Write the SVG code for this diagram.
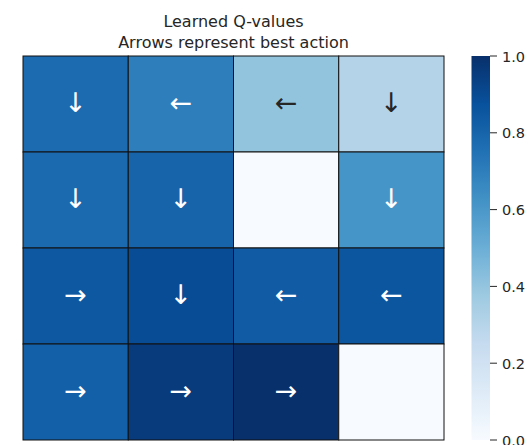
<svg xmlns="http://www.w3.org/2000/svg" width="530" height="445" viewBox="0 0 530 445">
<defs>
<linearGradient id="blues" x1="0" y1="1" x2="0" y2="0">
<stop offset="0" stop-color="#f7fbff"/>
<stop offset="0.125" stop-color="#deebf7"/>
<stop offset="0.25" stop-color="#c6dbef"/>
<stop offset="0.375" stop-color="#9ecae1"/>
<stop offset="0.5" stop-color="#6baed6"/>
<stop offset="0.625" stop-color="#4292c6"/>
<stop offset="0.75" stop-color="#2171b5"/>
<stop offset="0.875" stop-color="#08519c"/>
<stop offset="1" stop-color="#08306b"/>
</linearGradient>
<style>
text{font-family:"DejaVu Sans","Liberation Sans",sans-serif;fill:#262626}
.title{font-size:16px;text-anchor:middle}
.tick{font-size:14.5px}
.arr{font-size:27px;text-anchor:middle}
.w{fill:#ffffff}
.cell{stroke:#111;stroke-width:1}
.tk{stroke:#262626;stroke-width:1}
</style>
</defs>
<rect width="530" height="445" fill="#ffffff"/>
<g id="title">
<text class="title" x="233.5" y="27">Learned Q-values</text>
<text class="title" x="233.5" y="48">Arrows represent best action</text>
</g>
<g id="r0c0"><rect class="cell" x="23" y="56" width="105.25" height="96" fill="#1c6ab0"/><text class="arr w" x="75.6" y="112">↓</text></g>
<g id="r0c1"><rect class="cell" x="128.25" y="56" width="105.25" height="96" fill="#2e7ebc"/><text class="arr w" x="180.9" y="112">←</text></g>
<g id="r0c2"><rect class="cell" x="233.5" y="56" width="105.25" height="96" fill="#93c4de"/><text class="arr" x="286.1" y="112">←</text></g>
<g id="r0c3"><rect class="cell" x="338.75" y="56" width="105.25" height="96" fill="#b4d3e9"/><text class="arr" x="391.4" y="112">↓</text></g>
<g id="r1c0"><rect class="cell" x="23" y="152" width="105.25" height="96" fill="#1b69af"/><text class="arr w" x="75.6" y="208">↓</text></g>
<g id="r1c1"><rect class="cell" x="128.25" y="152" width="105.25" height="96" fill="#1764ab"/><text class="arr w" x="180.9" y="208">↓</text></g>
<g id="r1c2"><rect class="cell" x="233.5" y="152" width="105.25" height="96" fill="#f7fbff"/></g>
<g id="r1c3"><rect class="cell" x="338.75" y="152" width="105.25" height="96" fill="#4695c8"/><text class="arr w" x="391.4" y="208">↓</text></g>
<g id="r2c0"><rect class="cell" x="23" y="248" width="105.25" height="96" fill="#0e58a2"/><text class="arr w" x="75.6" y="304">→</text></g>
<g id="r2c1"><rect class="cell" x="128.25" y="248" width="105.25" height="96" fill="#084c95"/><text class="arr w" x="180.9" y="304">↓</text></g>
<g id="r2c2"><rect class="cell" x="233.5" y="248" width="105.25" height="96" fill="#105ba4"/><text class="arr w" x="286.1" y="304">←</text></g>
<g id="r2c3"><rect class="cell" x="338.75" y="248" width="105.25" height="96" fill="#0c56a0"/><text class="arr w" x="391.4" y="304">←</text></g>
<g id="r3c0"><rect class="cell" x="23" y="344" width="105.25" height="96" fill="#1460a8"/><text class="arr w" x="75.6" y="400">→</text></g>
<g id="r3c1"><rect class="cell" x="128.25" y="344" width="105.25" height="96" fill="#083b7c"/><text class="arr w" x="180.9" y="400">→</text></g>
<g id="r3c2"><rect class="cell" x="233.5" y="344" width="105.25" height="96" fill="#08306b"/><text class="arr w" x="286.1" y="400">→</text></g>
<g id="r3c3"><rect class="cell" x="338.75" y="344" width="105.25" height="96" fill="#f7fbff"/></g>
<g id="colorbar">
<rect x="471.5" y="56" width="18.5" height="384" fill="url(#blues)"/>
<line class="tk" x1="490" y1="56" x2="497" y2="56"/>
<line class="tk" x1="490" y1="132.8" x2="497" y2="132.8"/>
<line class="tk" x1="490" y1="209.6" x2="497" y2="209.6"/>
<line class="tk" x1="490" y1="286.4" x2="497" y2="286.4"/>
<line class="tk" x1="490" y1="363.2" x2="497" y2="363.2"/>
<line class="tk" x1="490" y1="440" x2="497" y2="440"/>
<text class="tick" x="502" y="61.5">1.0</text>
<text class="tick" x="502" y="138.3">0.8</text>
<text class="tick" x="502" y="215.1">0.6</text>
<text class="tick" x="502" y="291.9">0.4</text>
<text class="tick" x="502" y="368.7">0.2</text>
<text class="tick" x="502" y="445.5">0.0</text>
</g>
</svg>
